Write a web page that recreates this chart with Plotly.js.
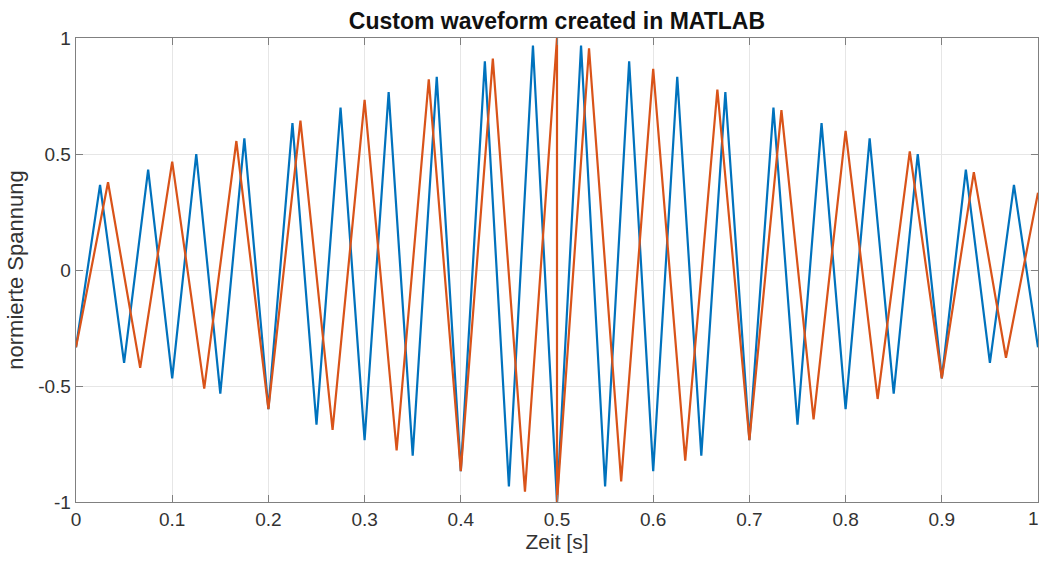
<!DOCTYPE html>
<html>
<head>
<meta charset="utf-8">
<script src="https://cdn.plot.ly/plotly-3.0.1.min.js"></script>
<style>html,body{margin:0;padding:0;background:#fff;}#chart{width:1041px;height:562px;}</style>
</head>
<body>
<div id="chart"></div>
<script>
// Blue waveform (period 0.05 s)
const blueTime = [0, 0.025, 0.05, 0.075, 0.1, 0.125, 0.15, 0.175, 0.2, 0.225, 0.25, 0.275, 0.3, 0.325, 0.35, 0.375, 0.4, 0.425, 0.45, 0.475, 0.5,
  0.525, 0.55, 0.575, 0.6, 0.625, 0.65, 0.675, 0.7, 0.725, 0.75, 0.775, 0.8, 0.825, 0.85, 0.875, 0.9, 0.925, 0.95, 0.975, 1.0];
const blueValues = [-0.333, 0.367, -0.4, 0.433, -0.467, 0.5, -0.533, 0.567, -0.6, 0.633, -0.667, 0.7, -0.733, 0.767, -0.8, 0.833, -0.867, 0.9, -0.933, 0.967, -1.0,
  0.967, -0.933, 0.9, -0.867, 0.833, -0.8, 0.767, -0.733, 0.7, -0.667, 0.633, -0.6, 0.567, -0.533, 0.5, -0.467, 0.433, -0.4, 0.367, -0.333];

// Orange waveform (period ~0.0667 s, phase flip at 0.5 s)
const orangeTime = [0, 0.0333, 0.0667, 0.1, 0.1333, 0.1667, 0.2, 0.2333, 0.2667, 0.3, 0.3333, 0.3667, 0.4, 0.4333, 0.4667, 0.5,
  0.5, 0.5333, 0.5667, 0.6, 0.6333, 0.6667, 0.7, 0.7333, 0.7667, 0.8, 0.8333, 0.8667, 0.9, 0.9333, 0.9667, 1.0];
const orangeValues = [-0.333, 0.378, -0.422, 0.467, -0.511, 0.556, -0.6, 0.644, -0.689, 0.733, -0.778, 0.822, -0.867, 0.911, -0.956, 1.0,
  -1.0, 0.956, -0.911, 0.867, -0.822, 0.778, -0.733, 0.689, -0.644, 0.6, -0.556, 0.511, -0.467, 0.422, -0.378, 0.333];

// x tick labels; the last one ('1') sits at the right edge and is drawn as an annotation so it stays inside the page
const xTicks = [0, 0.1, 0.2, 0.3, 0.4, 0.5, 0.6, 0.7, 0.8, 0.9, 1];
const xTickLabels = ['0', '0.1', '0.2', '0.3', '0.4', '0.5', '0.6', '0.7', '0.8', '0.9', '1'];
const yTicks = [-1, -0.5, 0, 0.5, 1];
const yTickLabels = ['-1', '-0.5', '0', '0.5', '1'];

const FONT = 'Liberation Sans, Arial, sans-serif';
const lastIdx = xTicks.length - 1;
const shownXText = xTickLabels.map((t, i) => i === lastIdx ? '' : t);

const traces = [
  {x: blueTime, y: blueValues, type: 'scatter', mode: 'lines', line: {color: '#0072BD', width: 2.2}, hoverinfo: 'x+y'},
  {x: orangeTime, y: orangeValues, type: 'scatter', mode: 'lines', line: {color: '#D95319', width: 2.2}, hoverinfo: 'x+y'}
];

const axisCommon = {
  showline: true, mirror: 'ticks', linecolor: '#808080', linewidth: 1.3,
  ticks: 'inside', ticklen: 7, tickcolor: '#808080', tickwidth: 1,
  showgrid: true, gridcolor: '#e6e6e6', gridwidth: 1, zeroline: false,
  tickfont: {family: FONT, size: 19, color: '#333'}
};

const layout = {
  width: 1041, height: 562,
  margin: {l: 76, r: 3, t: 38, b: 60},
  paper_bgcolor: '#fff', plot_bgcolor: '#fff',
  showlegend: false,
  title: {text: '<b>Custom waveform created in MATLAB</b>', x: 0.535, xanchor: 'center', y: 0.963, yanchor: 'middle',
    font: {family: FONT, size: 23, color: '#111'}},
  xaxis: Object.assign({}, axisCommon, {range: [0, 1], tickvals: xTicks, ticktext: shownXText,
    title: {text: 'Zeit [s]', standoff: 2, font: {family: FONT, size: 21, color: '#333'}}}),
  yaxis: Object.assign({}, axisCommon, {range: [-1, 1], tickvals: yTicks, ticktext: yTickLabels,
    title: {text: 'normierte Spannung', standoff: 8, font: {family: FONT, size: 22, color: '#333'}}}),
  annotations: [{
    xref: 'x', yref: 'paper', x: xTicks[lastIdx], y: 0, text: xTickLabels[lastIdx], showarrow: false,
    xanchor: 'right', yanchor: 'top', xshift: 3, yshift: -4,
    font: {family: FONT, size: 19, color: '#333'}
  }]
};

Plotly.newPlot('chart', traces, layout, {displayModeBar: false, staticPlot: true});
</script>
</body>
</html>
